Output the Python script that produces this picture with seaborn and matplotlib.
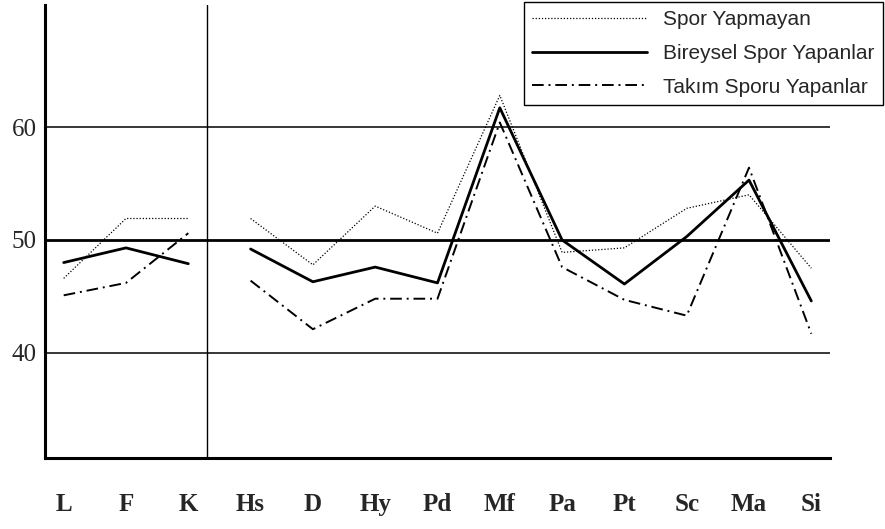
import pandas as pd
import seaborn as sns
import matplotlib.pyplot as plt

scales = ["L", "F", "K", "Hs", "D", "Hy", "Pd", "Mf", "Pa", "Pt", "Sc", "Ma", "Si"]
series_names = ["Spor Yapmayan", "Bireysel Spor Yapanlar", "Takım Sporu Yapanlar"]

spor_yapmayan = [46.6, 51.9, 51.9, 51.9, 47.8, 53.0, 50.6, 62.8, 48.9, 49.3, 52.8, 54.0, 47.5]
bireysel = [48.0, 49.3, 47.9, 49.2, 46.3, 47.6, 46.2, 61.7, 50.0, 46.1, 50.3, 55.3, 44.6]
takim = [45.1, 46.2, 50.6, 46.4, 42.1, 44.8, 44.8, 60.4, 47.6, 44.7, 43.3, 56.4, 41.7]

y_ticks = [40, 50, 60]

df = pd.DataFrame({"scale": scales * 3,
                   "pos": list(range(len(scales))) * 3,
                   "value": spor_yapmayan + bireysel + takim,
                   "group": [n for n in series_names for _ in scales]})
# validity scales (L F K) and clinical scales are drawn as separate pieces
df["segment"] = (df["pos"] >= 3).astype(int)

styles = {
    "Spor Yapmayan": dict(lw=0.9, linestyle=(0, (1, 1.5))),
    "Bireysel Spor Yapanlar": dict(lw=2.0, linestyle="-"),
    "Takım Sporu Yapanlar": dict(lw=1.4, linestyle=(0, (6, 2.5, 1, 2.5))),
}

sns.set_style("white")
fig = plt.figure(figsize=(8.85, 5.29), dpi=100)
ax = fig.add_axes([45/885, 71/529, 785/885, 453/529])

handles = []
for name in series_names:
    sub = df[df["group"] == name]
    for seg, part in sub.groupby("segment"):
        sns.lineplot(data=part, x="pos", y="value", ax=ax, color="black",
                     legend=False, **styles[name])
        if seg == 0:
            handles.append(ax.lines[-1])

for y in y_ticks:
    ax.axhline(y, color="black", lw=2.0 if y == 50 else 1.1, zorder=0)
ax.axvline(2.3, color="black", lw=1.0, zorder=0)

ax.set_xlim(-0.3, 12.3)
ax.set_ylim(30.7, 70.8)
ax.set_xticks(range(len(scales)))
ax.set_xticklabels(scales)
ax.set_yticks(y_ticks)
ax.set_xlabel("")
ax.set_ylabel("")
ax.tick_params(length=0)
ax.tick_params(axis="x", pad=25)
ax.tick_params(axis="y", pad=6)
for lab in ax.get_xticklabels():
    lab.set_fontfamily("Liberation Serif")
    lab.set_fontsize(18)
    lab.set_fontweight("bold")
for lab in ax.get_yticklabels():
    lab.set_fontfamily("Liberation Serif")
    lab.set_fontsize(18)

for side in ["top", "right"]:
    ax.spines[side].set_visible(False)
for side in ["left", "bottom"]:
    ax.spines[side].set_color("black")
    ax.spines[side].set_linewidth(2.2)

leg = fig.legend(handles, series_names, loc="upper right", bbox_to_anchor=(1.0, 1.0),
                 frameon=True, fancybox=False, edgecolor="black", framealpha=1,
                 borderaxespad=0.1, handlelength=5.5, handletextpad=0.8,
                 labelspacing=0.7, prop={"family": "Liberation Sans", "size": 15})
leg.get_frame().set_linewidth(1.0)

fig.savefig("out.png", dpi=100)
